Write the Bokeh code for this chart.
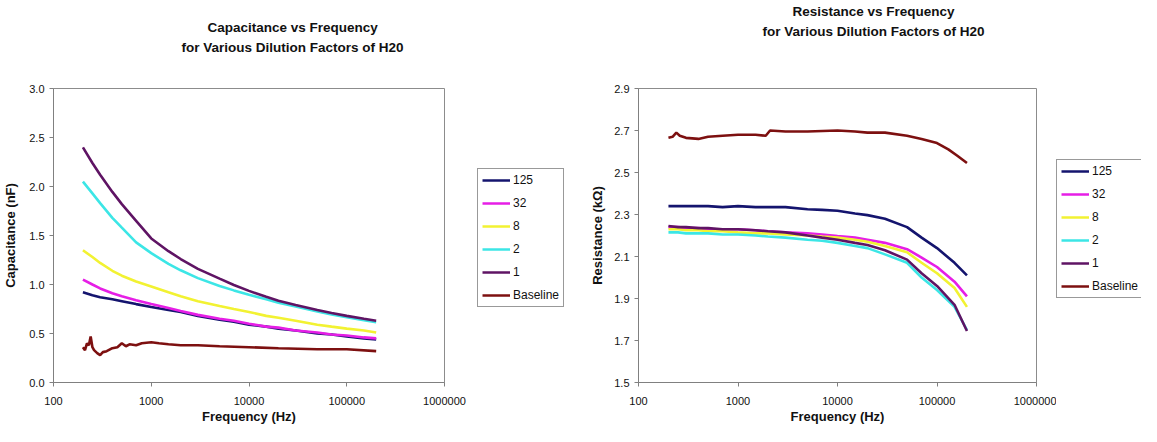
from bokeh.plotting import figure
from bokeh.layouts import row
from bokeh.models import (Range1d, FixedTicker, NumeralTickFormatter, Legend, LegendItem, Title)
from bokeh.embed import file_html
from bokeh.resources import INLINE

# ---------------- data ----------------
series_names = ["125", "32", "8", "2", "1", "Baseline"]
freq = [200, 250, 300, 400, 500, 700, 1000, 1500, 2000, 3000, 5000, 7000,
        10000, 15000, 20000, 30000, 50000, 70000, 100000, 150000, 200000]

cap_125 = [0.92, 0.89, 0.87, 0.85, 0.83, 0.80, 0.77, 0.74, 0.72, 0.68, 0.64, 0.62,
           0.59, 0.57, 0.55, 0.53, 0.50, 0.49, 0.47, 0.45, 0.44]
cap_32 = [1.05, 1.00, 0.96, 0.91, 0.88, 0.84, 0.80, 0.76, 0.73, 0.69, 0.65, 0.63,
          0.60, 0.57, 0.56, 0.53, 0.51, 0.49, 0.48, 0.46, 0.45]
cap_8 = [1.35, 1.28, 1.22, 1.14, 1.09, 1.03, 0.98, 0.92, 0.88, 0.83, 0.78, 0.75,
         0.72, 0.68, 0.66, 0.63, 0.59, 0.57, 0.55, 0.53, 0.51]
cap_2 = [2.05, 1.93, 1.83, 1.68, 1.58, 1.43, 1.32, 1.21, 1.145, 1.065, 0.985, 0.94,
         0.895, 0.85, 0.815, 0.775, 0.725, 0.695, 0.665, 0.635, 0.615]
cap_1 = [2.40, 2.24, 2.12, 1.945, 1.82, 1.65, 1.47, 1.34, 1.26, 1.16, 1.06, 0.995,
         0.935, 0.875, 0.835, 0.79, 0.74, 0.71, 0.68, 0.65, 0.63]
cap_base_freq = [200, 210, 220, 230, 240, 250, 260, 280, 300, 320, 350, 400, 450, 500,
                 550, 600, 700, 800, 1000, 1200, 1500, 2000, 3000, 5000, 10000, 20000,
                 50000, 100000, 200000]
cap_base = [0.36, 0.33, 0.40, 0.38, 0.47, 0.36, 0.33, 0.30, 0.28, 0.31, 0.32, 0.35, 0.36, 0.40,
            0.37, 0.39, 0.38, 0.40, 0.41, 0.40, 0.39, 0.38, 0.38, 0.37, 0.36, 0.35,
            0.34, 0.34, 0.32]

res_125 = [2.34, 2.34, 2.34, 2.34, 2.34, 2.335, 2.34, 2.335, 2.335, 2.335, 2.325, 2.322,
           2.318, 2.305, 2.297, 2.28, 2.24, 2.19, 2.14, 2.07, 2.01]
res_32 = [2.24, 2.24, 2.235, 2.235, 2.23, 2.23, 2.23, 2.225, 2.22, 2.215, 2.21, 2.205,
          2.197, 2.19, 2.18, 2.165, 2.135, 2.095, 2.05, 1.98, 1.91]
res_8 = [2.23, 2.23, 2.225, 2.225, 2.22, 2.22, 2.215, 2.21, 2.21, 2.205, 2.20, 2.195,
         2.19, 2.18, 2.17, 2.15, 2.12, 2.07, 2.02, 1.95, 1.86]
res_2 = [2.215, 2.215, 2.21, 2.21, 2.21, 2.205, 2.205, 2.20, 2.195, 2.19, 2.18, 2.175,
         2.165, 2.15, 2.14, 2.11, 2.07, 2.00, 1.94, 1.86, 1.75]
res_1 = [2.245, 2.24, 2.24, 2.235, 2.235, 2.23, 2.23, 2.225, 2.22, 2.215, 2.20, 2.19,
         2.18, 2.165, 2.155, 2.13, 2.085, 2.02, 1.96, 1.87, 1.745]
res_base_freq = [200, 220, 240, 260, 300, 400, 500, 700, 1000, 1500, 1900, 2100, 3000, 5000,
                 10000, 15000, 20000, 30000, 50000, 70000, 100000, 130000, 160000, 200000]
res_base = [2.665, 2.67, 2.69, 2.675, 2.665, 2.66, 2.67, 2.675, 2.68, 2.68, 2.675, 2.70, 2.695,
            2.695, 2.70, 2.695, 2.69, 2.69, 2.675, 2.66, 2.64, 2.61, 2.58, 2.545]

x_ticks = [100, 1000, 10000, 100000, 1000000]
cap_ticks = [0.0, 0.5, 1.0, 1.5, 2.0, 2.5, 3.0]
res_ticks = [1.5, 1.7, 1.9, 2.1, 2.3, 2.5, 2.7, 2.9]

colors = ["#14146e", "#e61ee6", "#f2f232", "#3ce6e6", "#5f1464", "#7d1010"]

FONT = "Liberation Sans"
TOP, BOTTOM, HEIGHT = 88, 44, 426


def make_fig(width, mb_left, mb_right, yr, yticks, ylabel, ylabel_standoff):
    p = figure(width=width, height=HEIGHT, x_axis_type="log",
               x_range=Range1d(100, 1000000), y_range=Range1d(*yr),
               output_backend="svg", toolbar_location=None,
               min_border_left=mb_left, min_border_right=mb_right,
               min_border_top=TOP, min_border_bottom=BOTTOM)
    p.xgrid.visible = False
    p.ygrid.visible = False
    p.outline_line_color = "#8c8c8c"
    p.outline_line_width = 1
    p.background_fill_color = "white"
    p.border_fill_color = "white"
    p.xaxis.ticker = FixedTicker(ticks=x_ticks, minor_ticks=[])
    p.xaxis.formatter = NumeralTickFormatter(format="0")
    p.yaxis.ticker = FixedTicker(ticks=yticks, minor_ticks=[])
    p.yaxis.formatter = NumeralTickFormatter(format="0.0")
    for ax in (p.xaxis[0], p.yaxis[0]):
        ax.axis_line_color = "#808080"
        ax.major_tick_line_color = "#808080"
        ax.major_tick_in = 0
        ax.major_tick_out = 4
        ax.minor_tick_line_color = None
        ax.major_label_text_font = FONT
        ax.major_label_text_font_size = "11px"
        ax.major_label_text_color = "#111111"
        ax.axis_label_text_font = FONT
        ax.axis_label_text_font_size = "13px"
        ax.axis_label_text_font_style = "bold"
        ax.axis_label_text_color = "#111111"
    p.xaxis.major_label_standoff = 10
    p.yaxis.major_label_standoff = 5
    p.xaxis.axis_label = "Frequency (Hz)"
    p.yaxis.axis_label = ylabel
    p.xaxis.axis_label_standoff = 1
    p.yaxis.axis_label_standoff = ylabel_standoff
    return p


def add_title(p, lines, offsets, gap, so):
    # spacer closest to the frame, then line 2, then line 1
    p.add_layout(Title(text=" ", text_font_size="1px", standoff=gap), "above")
    for txt, off in zip(reversed(lines), reversed(offsets)):
        p.add_layout(Title(text=txt, align="left", offset=off, standoff=so,
                           text_font=FONT, text_font_size="13.5px", text_font_style="bold",
                           text_color="#111111"), "above")


def legend_fig(width, series, vy):
    lf = figure(width=width, height=HEIGHT, x_range=Range1d(0, 1), y_range=Range1d(0, 1),
                x_axis_location=None, y_axis_location=None, output_backend="svg",
                toolbar_location=None, min_border_left=0, min_border_right=0,
                min_border_top=TOP, min_border_bottom=BOTTOM)
    lf.grid.visible = False
    lf.outline_line_color = None
    lf.background_fill_color = "white"
    lf.border_fill_color = "white"
    rs = [lf.line(xs, ys, line_color=c, line_width=2.5) for (xs, ys), c in zip(series, colors)]
    items = [LegendItem(label=n, renderers=[r]) for n, r in zip(series_names, rs)]
    lg = Legend(items=items, location=(0, vy), orientation="vertical",
                label_text_font=FONT, label_text_font_size="12px", label_text_color="#111111",
                glyph_width=28, glyph_height=12, label_height=12, spacing=9,
                padding=4, margin=0, label_standoff=3,
                border_line_color="#333333", border_line_width=1,
                background_fill_color="white", background_fill_alpha=1.0)
    lf.add_layout(lg, "center")
    return lf


# ---------------- left: capacitance ----------------
p1 = make_fig(477, 48, 33, (0, 3), cap_ticks, "Capacitance (nF)", 8)
cap_series = [(freq, cap_125), (freq, cap_32), (freq, cap_8), (freq, cap_2), (freq, cap_1),
              (cap_base_freq, cap_base)]
for (xs, ys), c in zip(cap_series, colors):
    p1.line(xs, ys, line_color=c, line_width=2.6)
add_title(p1, ["Capacitance vs Frequency", "for Various Dilution Factors of H20"],
          [154, 128], 29, 3)
lg1 = legend_fig(88, cap_series, 75)

# ---------------- right: resistance ----------------
p2 = make_fig(491, 73, 20, (1.5, 2.9), res_ticks, "Resistance (k\u03a9)", 6)
res_series = [(freq, res_125), (freq, res_32), (freq, res_8), (freq, res_2), (freq, res_1),
              (res_base_freq, res_base)]
for (xs, ys), c in zip(res_series, colors):
    p2.line(xs, ys, line_color=c, line_width=2.6)
add_title(p2, ["Resistance vs Frequency", "for Various Dilution Factors of H20"],
          [154, 124], 45, 2.5)
lg2 = legend_fig(85, res_series, 84)

layout = row(p1, lg1, p2, lg2)
open("out.html", "w").write(file_html(layout, INLINE))
